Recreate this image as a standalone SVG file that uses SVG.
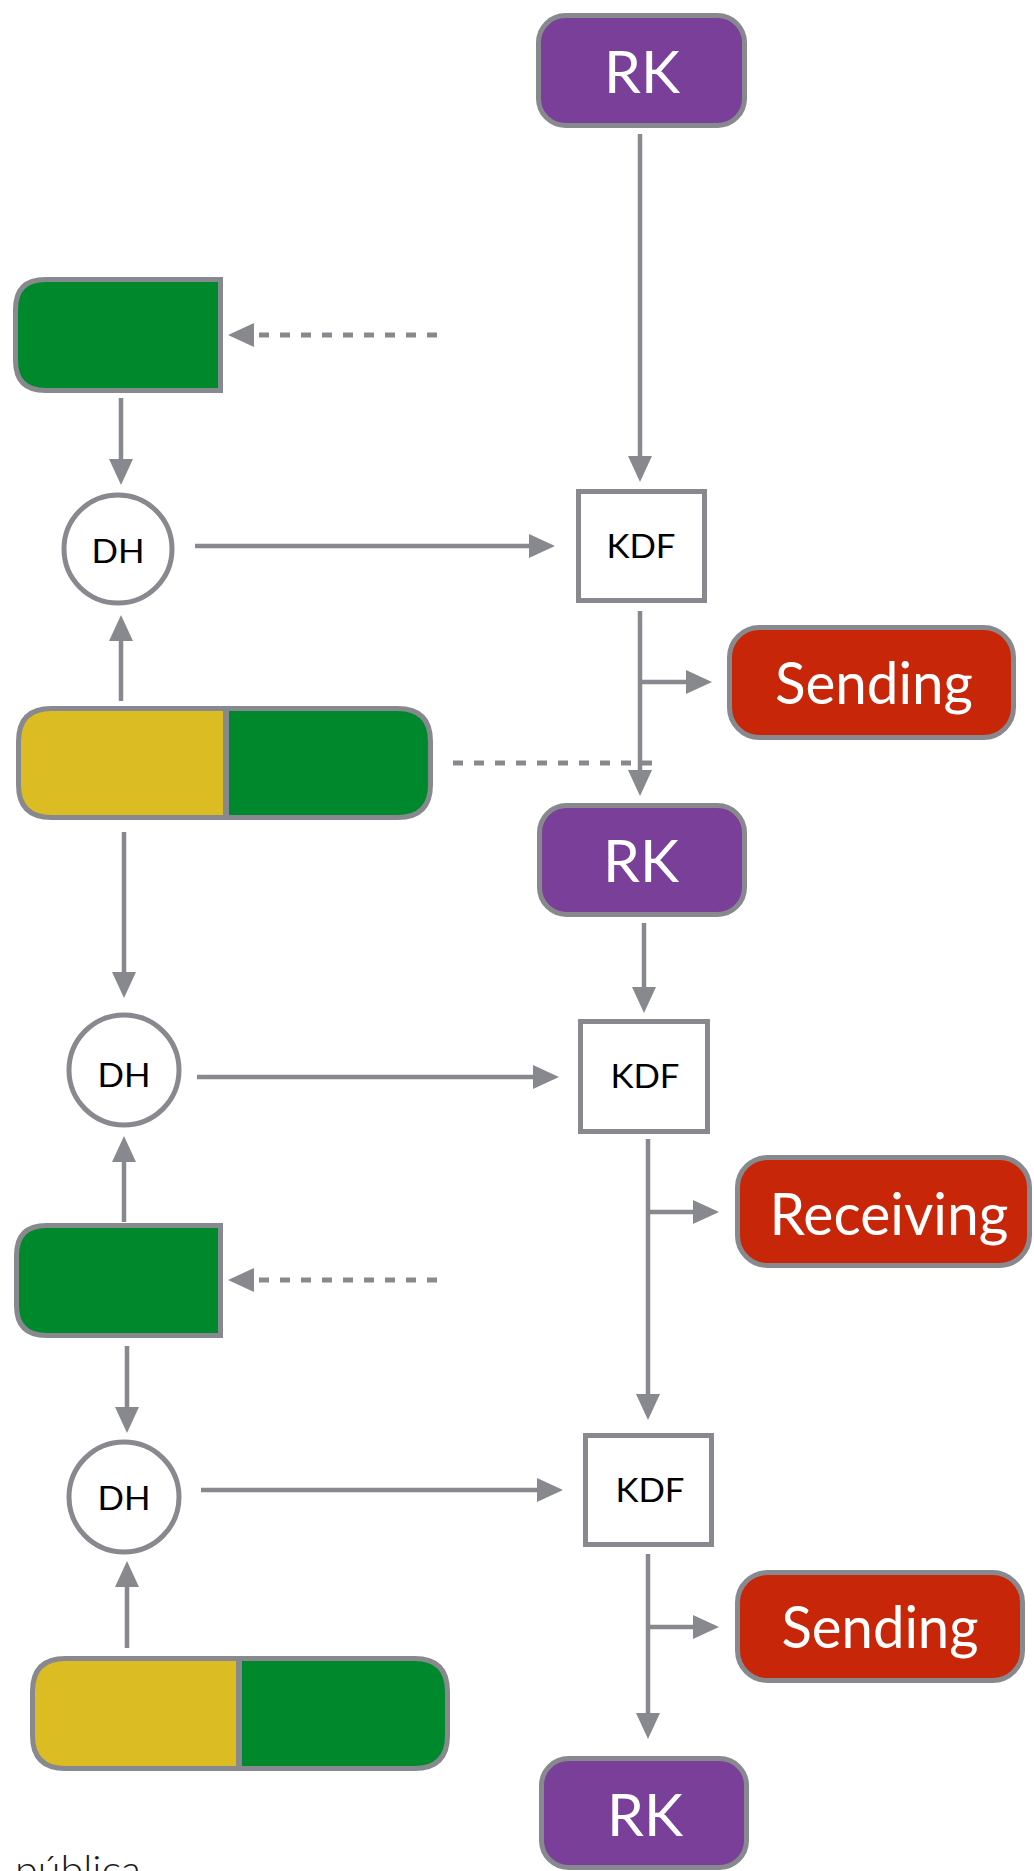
<svg xmlns="http://www.w3.org/2000/svg" width="1034" height="1871" viewBox="0 0 1034 1871">
  <style>
    .bg { fill: #ffffff; }
    .rk { fill: #793f99; stroke: #87898e; stroke-width: 5; }
    .out { fill: #c82608; stroke: #87898e; stroke-width: 5; }
    .kdf { fill: #ffffff; stroke: #87898e; stroke-width: 5; }
    .dh { fill: #ffffff; stroke: #87898e; stroke-width: 5; }
    .green { fill: #00892c; stroke: #87898e; stroke-width: 5; }
    .yellow { fill: #dbbd23; stroke: #87898e; stroke-width: 5; }
    .divider { stroke: #87898e; stroke-width: 6; }
    .big { font-family: Lato, "Open Sans", sans-serif; font-size: 58px; fill: #ffffff; text-anchor: middle; }
    .small { font-family: Lato, "Open Sans", sans-serif; font-size: 33px; fill: #000000; text-anchor: middle; }
    .note { font-family: Lato, "Open Sans", sans-serif; font-weight: 300; font-size: 40px; fill: #1a1a1a; }
    .edge { stroke: #87898e; stroke-width: 4.5; fill: none; }
    .dash { stroke: #87898e; stroke-width: 5; fill: none; stroke-dasharray: 10 11; }
  </style>
  <defs>
    <marker id="head" viewBox="0 0 26 24" refX="1" refY="12" markerWidth="26" markerHeight="24" markerUnits="userSpaceOnUse" orient="auto">
      <path d="M0,0 L26,12 L0,24 Z" fill="#87898e"/>
    </marker>
  </defs>

  <rect class="bg" x="0" y="0" width="1034" height="1871"/>

  <!-- connectors: each line stops at the base of its arrowhead -->
  <g id="connectors">
    <line class="edge" x1="640" y1="134" x2="640" y2="457" marker-end="url(#head)"/>
    <line class="dash" x1="437" y1="335" x2="253" y2="335" marker-end="url(#head)"/>
    <line class="edge" x1="121" y1="398" x2="121" y2="460" marker-end="url(#head)"/>
    <line class="edge" x1="195" y1="546" x2="530" y2="546" marker-end="url(#head)"/>
    <line class="edge" x1="121" y1="701" x2="121" y2="640" marker-end="url(#head)"/>
    <line class="edge" x1="640" y1="611" x2="640" y2="771" marker-end="url(#head)"/>
    <line class="edge" x1="640" y1="682" x2="687" y2="682" marker-end="url(#head)"/>
    <line class="dash" x1="453" y1="763" x2="653" y2="763"/>
    <line class="edge" x1="124" y1="832" x2="124" y2="973" marker-end="url(#head)"/>
    <line class="edge" x1="644" y1="923" x2="644" y2="988" marker-end="url(#head)"/>
    <line class="edge" x1="197" y1="1077" x2="534" y2="1077" marker-end="url(#head)"/>
    <line class="edge" x1="124" y1="1222" x2="124" y2="1161" marker-end="url(#head)"/>
    <line class="dash" x1="437" y1="1280" x2="253" y2="1280" marker-end="url(#head)"/>
    <line class="edge" x1="648" y1="1139" x2="648" y2="1395" marker-end="url(#head)"/>
    <line class="edge" x1="648" y1="1212" x2="694" y2="1212" marker-end="url(#head)"/>
    <line class="edge" x1="127" y1="1346" x2="127" y2="1408" marker-end="url(#head)"/>
    <line class="edge" x1="201" y1="1490" x2="538" y2="1490" marker-end="url(#head)"/>
    <line class="edge" x1="127" y1="1648" x2="127" y2="1586" marker-end="url(#head)"/>
    <line class="edge" x1="648" y1="1554" x2="648" y2="1714" marker-end="url(#head)"/>
    <line class="edge" x1="648" y1="1627" x2="694" y2="1627" marker-end="url(#head)"/>
  </g>

  <!-- root keys -->
  <g id="rk1">
    <rect class="rk" x="538.5" y="15.5" width="206" height="110" rx="27"/>
    <text class="big" x="642" y="93" textLength="76" lengthAdjust="spacingAndGlyphs">RK</text>
  </g>
  <g id="rk2">
    <rect class="rk" x="539.5" y="805.5" width="205" height="109" rx="27"/>
    <text class="big" x="641" y="882" textLength="76" lengthAdjust="spacingAndGlyphs">RK</text>
  </g>
  <g id="rk3">
    <rect class="rk" x="541.5" y="1758.5" width="205" height="109" rx="27"/>
    <text class="big" x="645" y="1836" textLength="76" lengthAdjust="spacingAndGlyphs">RK</text>
  </g>

  <!-- KDF steps -->
  <g id="kdf1">
    <rect class="kdf" x="578.5" y="491.5" width="126" height="109"/>
    <text class="small" x="641" y="558" textLength="69" lengthAdjust="spacingAndGlyphs">KDF</text>
  </g>
  <g id="kdf2">
    <rect class="kdf" x="580.5" y="1021.5" width="127" height="110"/>
    <text class="small" x="645" y="1088" textLength="69" lengthAdjust="spacingAndGlyphs">KDF</text>
  </g>
  <g id="kdf3">
    <rect class="kdf" x="585.5" y="1435.5" width="126" height="109"/>
    <text class="small" x="650" y="1502" textLength="69" lengthAdjust="spacingAndGlyphs">KDF</text>
  </g>

  <!-- DH operations -->
  <g id="dh1">
    <circle class="dh" cx="118" cy="549" r="54"/>
    <text class="small" x="118" y="563" textLength="53" lengthAdjust="spacingAndGlyphs">DH</text>
  </g>
  <g id="dh2">
    <circle class="dh" cx="124" cy="1070" r="55"/>
    <text class="small" x="124" y="1087" textLength="53" lengthAdjust="spacingAndGlyphs">DH</text>
  </g>
  <g id="dh3">
    <circle class="dh" cx="124" cy="1497" r="55"/>
    <text class="small" x="124" y="1510" textLength="53" lengthAdjust="spacingAndGlyphs">DH</text>
  </g>

  <!-- chain keys -->
  <g id="sending1">
    <rect class="out" x="729.5" y="627.5" width="284" height="110" rx="30"/>
    <text class="big" x="874" y="704" textLength="198" lengthAdjust="spacingAndGlyphs">Sending</text>
  </g>
  <g id="receiving">
    <rect class="out" x="737.5" y="1157.5" width="292" height="108" rx="30"/>
    <text class="big" x="889" y="1235" textLength="239" lengthAdjust="spacingAndGlyphs">Receiving</text>
  </g>
  <g id="sending2">
    <rect class="out" x="737.5" y="1572.5" width="285" height="108" rx="30"/>
    <text class="big" x="880" y="1648" textLength="197" lengthAdjust="spacingAndGlyphs">Sending</text>
  </g>

  <!-- public keys (rounded on the left side only) -->
  <g id="pub1">
    <path class="green" d="M220.5,279.5 L220.5,390.5 L45.5,390.5 Q15.5,390.5 15.5,360.5 L15.5,309.5 Q15.5,279.5 45.5,279.5 Z"/>
  </g>
  <g id="pub2">
    <path class="green" d="M220.5,1225.5 L220.5,1335.5 L46.5,1335.5 Q16.5,1335.5 16.5,1305.5 L16.5,1255.5 Q16.5,1225.5 46.5,1225.5 Z"/>
  </g>

  <!-- key pairs: private half (yellow) and public half (green) -->
  <g id="pair1">
    <path class="yellow" d="M226,708.5 L51.5,708.5 Q18.5,708.5 18.5,741.5 L18.5,784.5 Q18.5,817.5 51.5,817.5 L226,817.5 Z"/>
    <path class="green" d="M226,708.5 L397.5,708.5 Q430.5,708.5 430.5,741.5 L430.5,784.5 Q430.5,817.5 397.5,817.5 L226,817.5 Z"/>
    <line class="divider" x1="226" y1="708" x2="226" y2="818"/>
  </g>
  <g id="pair2">
    <path class="yellow" d="M239,1658.5 L65.5,1658.5 Q32.5,1658.5 32.5,1691.5 L32.5,1735.5 Q32.5,1768.5 65.5,1768.5 L239,1768.5 Z"/>
    <path class="green" d="M239,1658.5 L414.5,1658.5 Q447.5,1658.5 447.5,1691.5 L447.5,1735.5 Q447.5,1768.5 414.5,1768.5 L239,1768.5 Z"/>
    <line class="divider" x1="239" y1="1658" x2="239" y2="1769"/>
  </g>

  <text class="note" x="15" y="1884" textLength="126" lengthAdjust="spacingAndGlyphs">pública</text>
</svg>
